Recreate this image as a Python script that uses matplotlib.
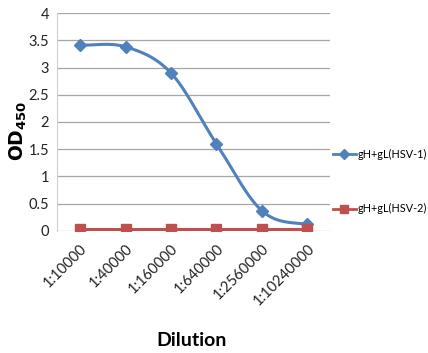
import numpy as np
import matplotlib.pyplot as plt
from matplotlib.lines import Line2D

dilutions = ['1:10000', '1:40000', '1:160000', '1:640000', '1:2560000', '1:10240000']
hsv1 = [3.41, 3.38, 2.90, 1.60, 0.37, 0.12]
hsv2 = [0.04, 0.04, 0.04, 0.04, 0.04, 0.04]


def smooth(x, y, n=30):
    # catmull-rom curve through the points, like Excel's smoothed line
    x = np.asarray(x, float)
    y = np.asarray(y, float)
    px = np.concatenate([[2 * x[0] - x[1]], x, [2 * x[-1] - x[-2]]])
    py = np.concatenate([[y[0]], y, [y[-1]]])
    xs, ys = [], []
    t = np.linspace(0, 1, n)
    for i in range(1, len(px) - 2):
        p0, p1, p2, p3 = [np.array([px[j], py[j]]) for j in range(i - 1, i + 3)]
        pts = 0.5 * ((2 * p1)[:, None] + (-p0 + p2)[:, None] * t
                     + (2 * p0 - 5 * p1 + 4 * p2 - p3)[:, None] * t ** 2
                     + (-p0 + 3 * p1 - 3 * p2 + p3)[:, None] * t ** 3)
        xs.extend(pts[0])
        ys.extend(pts[1])
    return xs, ys


fig = plt.figure(figsize=(4.28, 3.53), dpi=100)
ax = fig.add_axes([0.134, 0.346, 0.637, 0.617])

blue = '#4F81BD'
red = '#C0504D'
xpos = np.arange(len(dilutions))

sx, sy = smooth(xpos, hsv1)
ax.plot(sx, sy, color=blue, linewidth=2.2, zorder=3)
ax.plot(xpos, hsv1, linestyle='none', marker='D', markersize=6.5, color=blue, zorder=4)
ax.plot(xpos, hsv2, color=red, linewidth=2.2, marker='s', markersize=7.5, zorder=5)

ax.set_xlim(-0.5, 5.5)
ax.set_ylim(0, 4)
ax.set_yticks([0, 0.5, 1, 1.5, 2, 2.5, 3, 3.5, 4])
ax.set_yticklabels(['0', '0.5', '1', '1.5', '2', '2.5', '3', '3.5', '4'])
ax.set_xticks(xpos)
ax.set_xticklabels(dilutions, rotation=45, ha='right', rotation_mode='anchor')
ax.tick_params(length=0, labelsize=10.5, pad=6, labelcolor='#222222')
ax.tick_params(axis='x', pad=8)
for lab in ax.get_xticklabels() + ax.get_yticklabels():
    lab.set_fontfamily('Lato')

ax.grid(axis='y', color='#a6a6a6', linewidth=0.9)
ax.set_axisbelow(True)
for s in ['top', 'right', 'bottom']:
    ax.spines[s].set_visible(False)
ax.spines['left'].set_color('#d0d0d0')

fig.text(0.042, 0.63, r'$\mathbf{OD_{450}}$', fontsize=13.5, rotation=90, ha='center', va='center')
fig.text(0.448, 0.035, 'Dilution', fontsize=14, fontweight='bold', ha='center', va='center', family='Lato')

handles = [Line2D([], [], color=blue, linewidth=2, marker='D', markersize=5.5),
           Line2D([], [], color=red, linewidth=2, marker='s', markersize=6)]
fig.legend(handles, ['gH+gL(HSV-1)', 'gH+gL(HSV-2)'], loc='upper left',
           bbox_to_anchor=(0.777, 0.578), frameon=False, prop={'family': 'Lato', 'size': 7.8},
           labelspacing=4.0, handlelength=2.2, handletextpad=0.1, borderpad=0, borderaxespad=0)

plt.savefig('out.png', dpi=100)
